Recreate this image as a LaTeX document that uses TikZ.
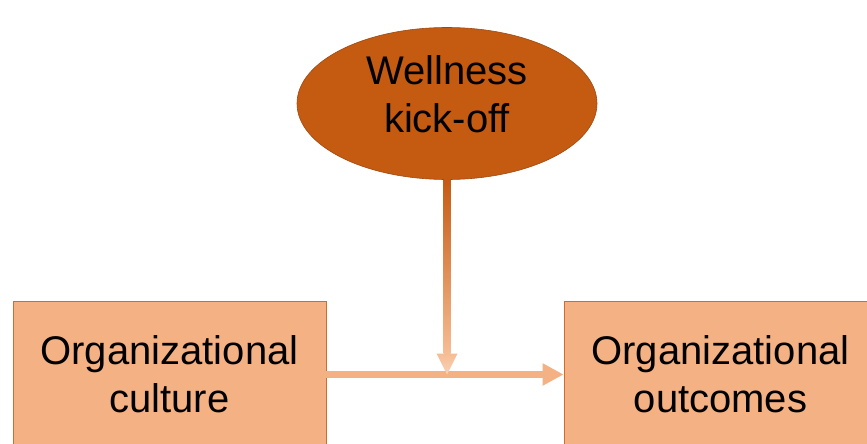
\documentclass[tikz,border=0pt]{standalone}
\usepackage{fontspec}
\setmainfont{Liberation Sans}
\usetikzlibrary{shapes.geometric, arrows.meta, positioning}

\definecolor{kickfill}{HTML}{C55A11}
\definecolor{kickline}{HTML}{9E4A12}
\definecolor{boxfill}{HTML}{F4B183}
\definecolor{boxline}{HTML}{CD6E30}
\definecolor{flowlight}{HTML}{F6BD94}
\definecolor{headlight}{HTML}{F9D2B6}

\tikzset{
  factor/.style={rectangle, draw=boxline, fill=boxfill, line width=0.8pt, minimum width=313pt, minimum height=147pt, inner sep=0pt, align=center, font=\fontsize{40}{48}\selectfont},
  event/.style={ellipse, draw=kickline, fill=kickfill, line width=0.6pt, minimum width=300pt, minimum height=152pt, inner sep=0pt},
  eventtext/.style={align=center, font=\fontsize{40}{48}\selectfont},
  arrow/.style={-{Triangle[width=21pt, length=21pt]}, draw=boxfill, line width=7pt},
}

\begin{document}
\begin{tikzpicture}[x=1pt, y=-1pt]
  \useasboundingbox (0,0) rectangle (867,444);
  \clip (0,0) rectangle (867,444);

  \node[factor] (culture)  at (169.5,374.5) {Organizational\\culture};
  \node[factor] (outcomes) at (720.5,374.5) {Organizational\\outcomes};
  \node[event]  (kick)     at (447,103.5)   {};
  \node[eventtext] (kicklabel) at ([yshift=9pt]kick.center) {Wellness\\kick-off};

  \coordinate (meet)     at (kick.south |- culture.east);
  \coordinate (headbase) at ([yshift=21pt]meet);

  % main effect
  \draw[arrow] (culture.east) -- (outcomes.west);

  % moderator: shaded shaft and head
  \shade[top color=kickfill, middle color=boxfill, bottom color=flowlight]
    ([xshift=-3.5pt]kick.south) rectangle ([xshift=3.5pt]headbase);
  \shade[top color=flowlight, bottom color=headlight]
    ([xshift=-10.5pt]headbase) -- ([xshift=10.5pt]headbase) -- (meet) -- cycle;
\end{tikzpicture}
\end{document}
